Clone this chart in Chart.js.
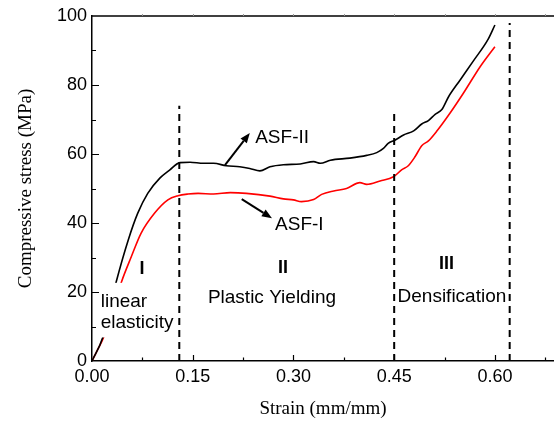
<!DOCTYPE html>
<html><head><meta charset="utf-8">
<style>html,body{margin:0;padding:0;background:#fff;overflow:hidden}</style>
<script src="https://cdn.jsdelivr.net/npm/chart.js@4/dist/chart.umd.min.js"></script>
</head><body>
<div style="width:554px;height:421px;position:relative"><canvas id="c"></canvas></div>
<script>
// ---- data ----
const strainASF2 = [0,0.016,0.036,0.054,0.068,0.083,0.101,0.116,0.131,0.146,0.166,0.181,0.200,0.220,0.235,0.250,0.265,0.285,0.310,0.330,0.340,0.355,0.384,0.409,0.424,0.434,0.441,0.451,0.464,0.479,0.491,0.501,0.511,0.521,0.531,0.548,0.568,0.590,0.600];
const stressASF2 = [0,6.8,22.9,35.1,42.8,48.6,53.0,55.4,57.5,57.6,57.3,57.3,56.6,56.3,55.8,55.1,56.3,56.9,57.1,57.8,57.3,58.2,58.8,59.6,60.4,61.6,63.1,64.0,65.5,66.7,68.7,69.7,71.5,72.9,76.6,81.4,87.0,93.3,97.4];
const strainASF1 = [0,0.007,0.018,0.044,0.0585,0.073,0.093,0.113,0.128,0.143,0.158,0.181,0.206,0.230,0.265,0.285,0.300,0.312,0.330,0.342,0.360,0.379,0.399,0.409,0.429,0.449,0.461,0.471,0.481,0.491,0.501,0.513,0.533,0.553,0.578,0.600];
const stressASF1 = [0,2.7,7.2,23.0,30.2,37.0,42.8,46.7,47.9,48.4,48.6,48.4,48.8,48.6,47.8,47.0,46.7,46.2,46.8,48.3,49.3,50.0,51.7,51.2,52.2,53.4,55.4,56.6,59.2,62.4,63.8,66.5,71.8,77.6,85.3,91.1];
const xTicks = [0, 0.15, 0.30, 0.45, 0.60];
const yTicks = [0, 20, 40, 60, 80, 100];
const phaseBounds = [0.13, 0.45, 0.622];
const phaseTops = [74, 73, 98];
const phaseNums = ['I', 'II', 'III'];
const seriesNames = ['ASF-II', 'ASF-I'];

// ---- layout / annotation placement (data coordinates) ----
const X_MAX = 0.688;
const numPos = [[0.0745,25.2],[0.2845,25.5],[0.528,26.7]];
const phaseTextPos = [
  {lines:['linear','elasticity'], x:0.013, y:15.7, align:'left', box:true},
  {lines:['Plastic Yielding'], x:0.268, y:16.7, align:'center'},
  {lines:['Densification'], x:0.536, y:17.2, align:'center'}
];
const arrows = [
  {from:[0.198,56.8], to:[0.235,66.1], text:[0.243,63.1]},
  {from:[0.223,46.9], to:[0.268,41.4], text:[0.2726,38.0]}
];

const pts = (xs, ys) => xs.map((x,i)=>({x, y: ys[i]}));
const datasets = [];
phaseBounds.forEach((b,i)=>{
  datasets.push({data:[{x:b,y:0},{x:b,y:phaseTops[i]}], borderColor:'#000', borderWidth:2, borderDash:[7,5], pointRadius:0, isBoundary:true, tension:0});
});
datasets.push({label:seriesNames[0], data:pts(strainASF2,stressASF2), borderColor:'#000', borderWidth:1.6, pointRadius:0, tension:0.3, cubicInterpolationMode:'monotone'});
datasets.push({label:seriesNames[1], data:pts(strainASF1,stressASF1), borderColor:'#ff0000', borderWidth:1.6, pointRadius:0, tension:0.3, cubicInterpolationMode:'monotone'});

const SANS = "'Liberation Sans', Arial, sans-serif";
const SERIF = "'Liberation Serif', 'Times New Roman', serif";

let boxed = false;
function drawBox(chart){
  const ctx = chart.ctx, xs = chart.scales.x, ys = chart.scales.y;
  const t = phaseTextPos[0];
  ctx.save();
  ctx.font = '19px ' + SANS;
  const w = Math.max(...t.lines.map(l=>ctx.measureText(l).width));
  const px = xs.getPixelForValue(t.x), py = ys.getPixelForValue(t.y);
  ctx.fillStyle = '#fff';
  ctx.fillRect(px-3, py-24, w+5, 21.6*(t.lines.length-1)+33);
  ctx.restore();
}

const deco = {
  id:'deco',
  beforeDatasetsDraw(){ boxed = false; },
  beforeDatasetDraw(chart, args){
    if (chart.data.datasets[args.index].isBoundary && !boxed){ drawBox(chart); boxed = true; }
  },
  afterDraw(chart){
    const ctx = chart.ctx, xs = chart.scales.x, ys = chart.scales.y, a = chart.chartArea;
    ctx.save();
    ctx.strokeStyle = '#000'; ctx.lineWidth = 1.5;
    ctx.beginPath(); ctx.moveTo(a.left, a.top); ctx.lineTo(a.right, a.top); ctx.stroke();
    ctx.lineWidth = 1.2;
    ctx.beginPath();
    for (let v = 10; v < 100; v += 10){
      const y = Math.round(ys.getPixelForValue(v))+0.5;
      const len = (v % 20 === 0) ? 7 : 4;
      ctx.moveTo(a.left, y); ctx.lineTo(a.left+len, y);
    }
    for (let k = 1; k*0.075 <= X_MAX; k++){
      const x = Math.round(xs.getPixelForValue(k*0.075))+0.5;
      const len = (k % 2 === 0) ? 6 : 3.5;
      ctx.moveTo(x, a.bottom); ctx.lineTo(x, a.bottom-len);
    }
    ctx.stroke();
    ctx.strokeStyle = '#999'; ctx.lineWidth = 1;
    ctx.beginPath();
    for (let k = 1; k*0.075 <= X_MAX; k++){
      const x = Math.round(xs.getPixelForValue(k*0.075))+0.5;
      ctx.moveTo(x, a.top); ctx.lineTo(x, a.top-2);
    }
    ctx.stroke();
    ctx.fillStyle = '#000';
    ctx.font = 'bold 18px ' + SANS;
    ctx.textAlign = 'center'; ctx.textBaseline = 'alphabetic';
    phaseNums.forEach((n,i)=>{
      ctx.fillText(n, xs.getPixelForValue(numPos[i][0]), ys.getPixelForValue(numPos[i][1]));
    });
    ctx.font = '19px ' + SANS;
    phaseTextPos.forEach(t=>{
      ctx.textAlign = t.align;
      t.lines.forEach((l,j)=>{
        ctx.fillText(l, xs.getPixelForValue(t.x), ys.getPixelForValue(t.y)+j*21.6);
      });
    });
    ctx.textAlign = 'left';
    ctx.strokeStyle = '#000'; ctx.lineWidth = 2;
    arrows.forEach((ar,i)=>{
      const x1 = xs.getPixelForValue(ar.from[0]), y1 = ys.getPixelForValue(ar.from[1]);
      const x2 = xs.getPixelForValue(ar.to[0]), y2 = ys.getPixelForValue(ar.to[1]);
      const ang = Math.atan2(y2-y1, x2-x1);
      const hl = 10, hw = 4;
      const bx = x2 - hl*Math.cos(ang), by = y2 - hl*Math.sin(ang);
      ctx.beginPath(); ctx.moveTo(x1,y1); ctx.lineTo(bx,by); ctx.stroke();
      ctx.beginPath();
      ctx.moveTo(x2,y2);
      ctx.lineTo(bx + hw*Math.sin(ang), by - hw*Math.cos(ang));
      ctx.lineTo(bx - hw*Math.sin(ang), by + hw*Math.cos(ang));
      ctx.closePath(); ctx.fill();
      ctx.fillText(seriesNames[i], xs.getPixelForValue(ar.text[0]), ys.getPixelForValue(ar.text[1]));
    });
    ctx.restore();
  }
};

new Chart(document.getElementById('c'), {
  type:'line',
  data:{datasets},
  plugins:[deco],
  options:{
    responsive:true, maintainAspectRatio:false, animation:false,
    layout:{padding:{top:16,left:0,right:0,bottom:0}},
    plugins:{legend:{display:false}, tooltip:{enabled:false}},
    scales:{
      x:{type:'linear', min:0, max:X_MAX,
        afterBuildTicks(s){ s.ticks = xTicks.map(v=>({value:v})); },
        afterFit(s){ s.height = 60; },
        grid:{display:false, drawTicks:false},
        border:{display:true, color:'#000', width:1.5},
        ticks:{color:'#000', font:{family:SANS, size:18}, padding:5, maxRotation:0, callback:v=>Number(v).toFixed(2)},
        title:{display:true, text:'Strain (mm/mm)', color:'#000', font:{family:SERIF, size:19}, padding:{top:0,bottom:1}}
      },
      y:{type:'linear', min:0, max:100,
        afterBuildTicks(s){ s.ticks = yTicks.map(v=>({value:v})); },
        afterFit(s){ s.width = 92; },
        grid:{display:false, drawTicks:false},
        border:{display:true, color:'#000', width:1.5},
        ticks:{color:'#000', font:{family:SANS, size:18}, padding:5},
        title:{display:true, text:'Compressive stress (MPa)', color:'#000', font:{family:SERIF, size:19}, padding:{top:15,bottom:0}}
      }
    }
  }
});
</script>
</body></html>
